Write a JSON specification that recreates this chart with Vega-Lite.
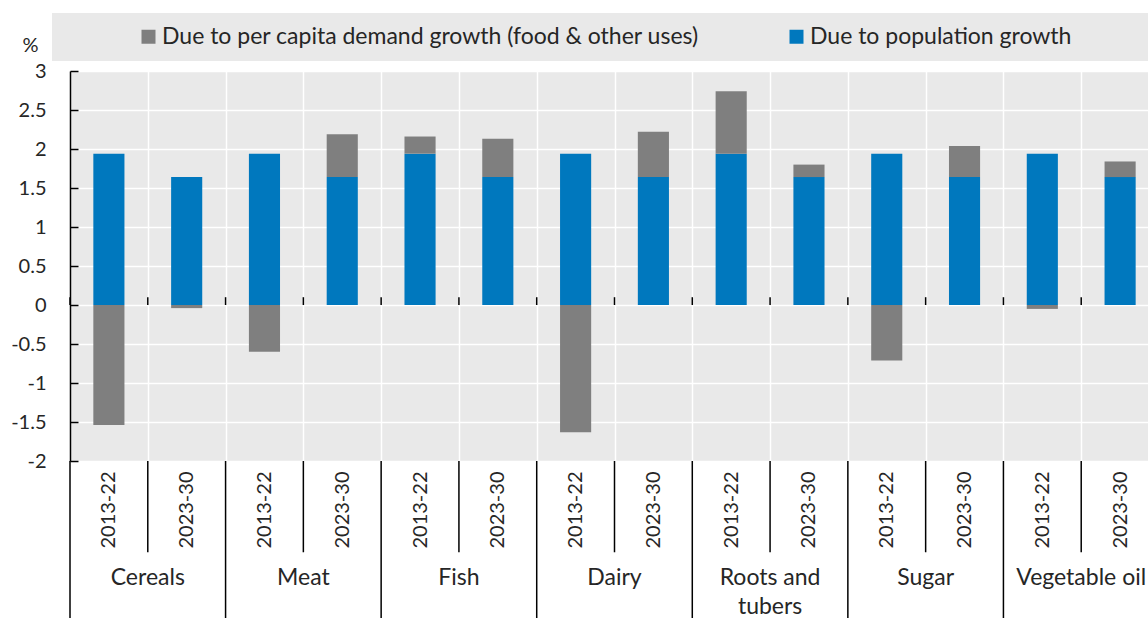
{
  "$schema": "https://vega.github.io/schema/vega-lite/v6.json",
  "autosize": {"type": "none"},
  "width": 1078,
  "height": 390,
  "padding": {"left": 70, "top": 71, "right": 0, "bottom": 157},
  "background": "#ffffff",
  "config": {
    "font": "Lato",
    "view": {"fill": "#e9e9e9", "stroke": null},
    "axis": {"labelFont": "Lato", "labelFontSize": 20, "labelColor": "#262626", "titleFont": "Lato"},
    "legend": {"labelFont": "Lato"}
  },
  "resolve": {"axis": {"y": "independent"}},
  "data": {
    "values": [
      {"commodity": "Cereals", "period": "2013-22", "component": "Due to population growth", "value": 1.94},
      {"commodity": "Cereals", "period": "2013-22", "component": "Due to per capita demand growth (food & other uses)", "value": -1.54},
      {"commodity": "Cereals", "period": "2023-30", "component": "Due to population growth", "value": 1.64},
      {"commodity": "Cereals", "period": "2023-30", "component": "Due to per capita demand growth (food & other uses)", "value": -0.04},
      {"commodity": "Meat", "period": "2013-22", "component": "Due to population growth", "value": 1.94},
      {"commodity": "Meat", "period": "2013-22", "component": "Due to per capita demand growth (food & other uses)", "value": -0.6},
      {"commodity": "Meat", "period": "2023-30", "component": "Due to population growth", "value": 1.64},
      {"commodity": "Meat", "period": "2023-30", "component": "Due to per capita demand growth (food & other uses)", "value": 0.55},
      {"commodity": "Fish", "period": "2013-22", "component": "Due to population growth", "value": 1.94},
      {"commodity": "Fish", "period": "2013-22", "component": "Due to per capita demand growth (food & other uses)", "value": 0.22},
      {"commodity": "Fish", "period": "2023-30", "component": "Due to population growth", "value": 1.64},
      {"commodity": "Fish", "period": "2023-30", "component": "Due to per capita demand growth (food & other uses)", "value": 0.49},
      {"commodity": "Dairy", "period": "2013-22", "component": "Due to population growth", "value": 1.94},
      {"commodity": "Dairy", "period": "2013-22", "component": "Due to per capita demand growth (food & other uses)", "value": -1.63},
      {"commodity": "Dairy", "period": "2023-30", "component": "Due to population growth", "value": 1.64},
      {"commodity": "Dairy", "period": "2023-30", "component": "Due to per capita demand growth (food & other uses)", "value": 0.58},
      {"commodity": "Roots and tubers", "period": "2013-22", "component": "Due to population growth", "value": 1.94},
      {"commodity": "Roots and tubers", "period": "2013-22", "component": "Due to per capita demand growth (food & other uses)", "value": 0.8},
      {"commodity": "Roots and tubers", "period": "2023-30", "component": "Due to population growth", "value": 1.64},
      {"commodity": "Roots and tubers", "period": "2023-30", "component": "Due to per capita demand growth (food & other uses)", "value": 0.16},
      {"commodity": "Sugar", "period": "2013-22", "component": "Due to population growth", "value": 1.94},
      {"commodity": "Sugar", "period": "2013-22", "component": "Due to per capita demand growth (food & other uses)", "value": -0.71},
      {"commodity": "Sugar", "period": "2023-30", "component": "Due to population growth", "value": 1.64},
      {"commodity": "Sugar", "period": "2023-30", "component": "Due to per capita demand growth (food & other uses)", "value": 0.4},
      {"commodity": "Vegetable oil", "period": "2013-22", "component": "Due to population growth", "value": 1.94},
      {"commodity": "Vegetable oil", "period": "2013-22", "component": "Due to per capita demand growth (food & other uses)", "value": -0.05},
      {"commodity": "Vegetable oil", "period": "2023-30", "component": "Due to population growth", "value": 1.64},
      {"commodity": "Vegetable oil", "period": "2023-30", "component": "Due to per capita demand growth (food & other uses)", "value": 0.2}
    ]
  },
  "transform": [
    {"calculate": "datum.commodity + '|' + datum.period", "as": "slot"}
  ],
  "encoding": {
    "x": {
      "field": "slot",
      "type": "nominal",
      "sort": null,
      "scale": {"type": "band", "paddingInner": 0, "paddingOuter": 0, "range": [0, 1089]},
      "axis": {
        "title": null,
        "labelAngle": -90,
        "labelPadding": 10,
        "labelExpr": "split(datum.label, '|')[1]",
        "ticks": false,
        "domain": false,
        "grid": true,
        "gridColor": "#ffffff",
        "gridWidth": 1.5,
        "tickBand": "extent"
      }
    }
  },
  "layer": [
    {
      "mark": {"type": "bar", "width": {"band": 0.4}},
      "encoding": {
        "y": {
          "field": "value",
          "type": "quantitative",
          "stack": "zero",
          "scale": {"domain": [-2, 3], "nice": false, "zero": false},
          "axis": {
            "title": "%",
            "titleAngle": 0,
            "titleFontSize": 20,
            "titleFontWeight": "normal",
            "titleColor": "#262626",
            "titleX": -40,
            "titleY": -26,
            "titleAlign": "center",
            "titleBaseline": "middle",
            "values": [-2, -1.5, -1, -0.5, 0, 0.5, 1, 1.5, 2, 2.5, 3],
            "labelExpr": "'' + datum.value",
            "labelOverlap": false,
            "grid": true,
            "gridColor": "#ffffff",
            "gridWidth": 1.5,
            "domainColor": "#000000",
            "domainWidth": 1.5,
            "ticks": false,
            "labelPadding": 24
          }
        },
        "color": {
          "field": "component",
          "type": "nominal",
          "scale": {
            "domain": ["Due to per capita demand growth (food & other uses)", "Due to population growth"],
            "range": ["#7f7f7f", "#0078be"]
          },
          "legend": {
            "title": " ",
            "titleOrient": "right",
            "titlePadding": 120,
            "orient": "none",
            "legendX": -18,
            "legendY": -58,
            "direction": "horizontal",
            "fillColor": "#e9e9e9",
            "padding": 12,
            "symbolType": "square",
            "symbolSize": 196,
            "symbolStrokeWidth": 0,
            "symbolOffset": 73,
            "labelFontSize": 23,
            "labelColor": "#262626",
            "labelLimit": 800,
            "labelOffset": 2,
            "columnPadding": 12
          }
        },
        "order": {"field": "component", "sort": "descending"}
      }
    },
    {
      "mark": {"type": "rule", "color": "#000000", "strokeWidth": 1.5},
      "encoding": {
        "y": {
          "datum": 0,
          "type": "quantitative",
          "axis": {
            "orient": "right",
            "offset": -1078,
            "title": null,
            "values": [-2, -1.5, -1, -0.5, 0, 0.5, 1, 1.5, 2, 2.5, 3],
            "labels": false,
            "domain": false,
            "grid": false,
            "ticks": true,
            "tickColor": "#000000",
            "tickWidth": 1.5,
            "tickSize": 8
          }
        }
      }
    },
    {
      "transform": [{"filter": "datum.component == 'Due to population growth'"}],
      "mark": {"type": "rule", "color": "#000000", "strokeWidth": 1.5},
      "encoding": {
        "x": {"field": "slot", "type": "nominal", "sort": null, "bandPosition": 0},
        "y": {"datum": 0, "type": "quantitative", "axis": null},
        "y2": {"datum": 0.1}
      }
    },
    {
      "transform": [{"filter": "datum.component == 'Due to population growth' && datum.period == '2023-30'"}],
      "mark": {"type": "rule", "color": "#000000", "strokeWidth": 1.5},
      "encoding": {
        "x": {"field": "slot", "type": "nominal", "sort": null, "bandPosition": 0},
        "y": {"datum": -2, "type": "quantitative", "axis": null},
        "y2": {"datum": -3.17}
      }
    },
    {
      "transform": [{"filter": "datum.component == 'Due to population growth' && datum.period == '2013-22'"}],
      "mark": {"type": "rule", "color": "#000000", "strokeWidth": 1.5},
      "encoding": {
        "x": {"field": "slot", "type": "nominal", "sort": null, "bandPosition": 0},
        "y": {"datum": -2, "type": "quantitative", "axis": null},
        "y2": {"datum": -4.2}
      }
    },
    {
      "transform": [
        {"filter": "datum.component == 'Due to population growth' && datum.period == '2023-30'"},
        {"calculate": "datum.commodity == 'Roots and tubers' ? ['Roots and', 'tubers'] : datum.commodity", "as": "label"}
      ],
      "mark": {"type": "text", "fontSize": 23, "color": "#262626", "baseline": "top", "align": "center", "lineHeight": 29},
      "encoding": {
        "x": {"field": "slot", "type": "nominal", "sort": null, "bandPosition": 0},
        "y": {"datum": -3.36, "type": "quantitative", "axis": null},
        "text": {"field": "label"}
      }
    }
  ]
}
